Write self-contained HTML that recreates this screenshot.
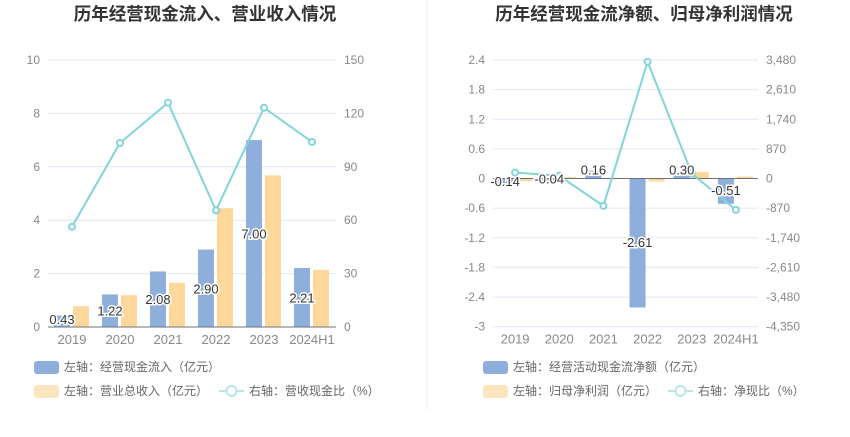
<!DOCTYPE html>
<html><head><meta charset="utf-8"><style>
body{margin:0;background:#fff;}
svg{display:block;font-family:"Liberation Sans","Noto Sans CJK SC",sans-serif;}
.tick{font-size:12px;fill:#888;}
.lbl{font-size:13px;fill:#333;stroke:#fff;stroke-width:3px;paint-order:stroke;}
.leg{font-size:12px;fill:#666;}
.title{font-size:17.5px;font-weight:bold;fill:#333;}
</style></head><body>
<svg id="c" width="850" height="437">
<line x1="427" y1="0" x2="427" y2="410" stroke="#eee"/>
<text class="title" x="205" y="20" text-anchor="middle">历年经营现金流入、营业收入情况</text>
<text class="title" x="644" y="20" text-anchor="middle">历年经营现金流净额、归母净利润情况</text>
</svg>
<script>
const categories=["2019","2020","2021","2022","2023","2024H1"];
const leftInflow=[0.43,1.22,2.08,2.90,7.00,2.21];
const leftRevenue=[0.78,1.19,1.65,4.45,5.68,2.14];
const leftRatio=[56.3,103.4,126,65.5,123.2,104];
const leftTicksL=[0,2,4,6,8,10];
const leftTicksR=["0","30","60","90","120","150"];
const rightNet=[-0.14,-0.04,0.16,-2.61,0.06,-0.51];
const rightNetLabels=["-0.14","-0.04","0.16","-2.61","0.30","-0.51"];
const rightProfit=[-0.05,0.03,0.01,-0.06,0.13,0.04];
const rightRatio=[176,80,-802,3430,147,-920];
const rightTicksL=[-3,-2.4,-1.8,-1.2,-0.6,0,0.6,1.2,1.8,2.4];
const rightTicksR=["-4,350","-3,480","-2,610","-1,740","-870","0","870","1,740","2,610","3,480"];

const svg=document.getElementById('c');
const NS='http://www.w3.org/2000/svg';
function mk(tag,attrs,txt){const e=document.createElementNS(NS,tag);for(const k in attrs)e.setAttribute(k,attrs[k]);if(txt!==undefined)e.textContent=txt;svg.appendChild(e);return e;}

function drawChart(o){
  const n=categories.length, bw=(o.x1-o.x0)/n;
  const yL=v=>o.yb-(v-o.lmin)/(o.lmax-o.lmin)*(o.yb-o.yt);
  const yR=v=>o.yb-(v-o.rmin)/(o.rmax-o.rmin)*(o.yb-o.yt);
  const xc=i=>o.x0+bw*(i+0.5);
  o.ticksL.forEach((t,i)=>{
    const y=yL(t);
    const g=mk('line',{x1:o.x0,x2:o.x1,y1:y,y2:y,stroke:'#e0e6f1'});
    
    
    const a=mk('text',{x:o.x0-8,y:y+4,'text-anchor':'end',class:'tick'},String(t));
    
    
    const b=mk('text',{x:o.x1+8,y:y+4,'text-anchor':'start',class:'tick'},o.ticksR[i]);
    
    
  });
  const z=yL(0);
  categories.forEach((c,i)=>{
    const t=mk('text',{x:xc(i),y:o.yb+17,'text-anchor':'middle',class:'tick',style:'font-size:13px'},c);
    
    
    const v1=o.s1[i],v2=o.s2[i];
    const r1=mk('rect',{x:xc(i)-18,y:Math.min(yL(v1),z),width:16,height:Math.abs(yL(v1)-z),fill:'#8eaedb'});
    
    
    const r2=mk('rect',{x:xc(i)+1,y:Math.min(yL(v2),z),width:16,height:Math.abs(yL(v2)-z),fill:'#fdd898'});
    
    
  });
  const ax=mk('line',{x1:o.x0,x2:o.x1,y1:z,y2:z,stroke:'#6e7079'});
  
  
  let d='';
  o.line.forEach((v,i)=>{d+=(i?'L':'M')+xc(i)+' '+yR(v);});
  const pl=mk('path',{d:d,fill:'none',stroke:'#82d4d8','stroke-width':2});
  
  
  o.line.forEach((v,i)=>{
    const p=mk('circle',{cx:xc(i),cy:yR(v),r:3,fill:'#fff',stroke:'#82d4d8','stroke-width':2});
    
    
  });
  categories.forEach((c,i)=>{
    const t=mk('text',{x:xc(i)-10,y:o.lpos(i,yL),'text-anchor':'middle',class:'lbl'},o.labels[i]);
    
    
  });
}
drawChart({p:'left',x0:48,x1:336,yt:60,yb:327,lmin:0,lmax:10,rmin:0,rmax:150,
  ticksL:leftTicksL,ticksR:leftTicksR,s1:leftInflow,s2:leftRevenue,line:leftRatio,
  labels:leftInflow.map(v=>v.toFixed(2)),
  lpos:(i,yL)=>Math.min((yL(leftInflow[i])+yL(0))/2+5, yL(0)-3)});
drawChart({p:'right',x0:493,x1:758,yt:60,yb:326.7,lmin:-3,lmax:2.4,rmin:-4350,rmax:3480,
  ticksL:rightTicksL,ticksR:rightTicksR,s1:rightNet,s2:rightProfit,line:rightRatio,
  labels:rightNetLabels,
  lpos:(i,yL)=>{const v=rightNet[i];if(v>=0)return yL(0)-4;if(v<-1)return (yL(v)+yL(0))/2+4;return Math.max(yL(0)+4,(yL(v)+yL(0))/2+4);}});

function legend(x,y,type,color,txt,name){
  let e;
  if(type==='rect'){e=mk('rect',{x:x,y:y-6,width:25,height:13,rx:3,fill:color});}
  else{e=mk('g',{});const l=document.createElementNS(NS,'line');l.setAttribute('x1',x);l.setAttribute('x2',x+25);l.setAttribute('y1',y);l.setAttribute('y2',y);l.setAttribute('stroke',color);l.setAttribute('stroke-width',2);e.appendChild(l);const c=document.createElementNS(NS,'circle');c.setAttribute('cx',x+12.5);c.setAttribute('cy',y);c.setAttribute('r',5);c.setAttribute('fill','#fff');c.setAttribute('stroke',color);c.setAttribute('stroke-width',2);e.appendChild(c);}
  
  
  const t=mk('text',{x:x+30,y:y+4,class:'leg'},txt);
  
  
}
legend(34,367,'rect','#8eaedb','左轴：经营现金流入（亿元）','legend-inflow');
legend(34,391,'rect','#fde5c0','左轴：营业总收入（亿元）','legend-revenue');
legend(219,391,'line','#b8e6e8','右轴：营收现金比（%）','legend-revenue-cash-ratio');
legend(483,367,'rect','#8eaedb','左轴：经营活动现金流净额（亿元）','legend-net-cashflow');
legend(483,391,'rect','#fde5c0','左轴：归母净利润（亿元）','legend-net-profit');
legend(668,391,'line','#b8e6e8','右轴：净现比（%）','legend-net-cash-ratio');
</script>
</body></html>
